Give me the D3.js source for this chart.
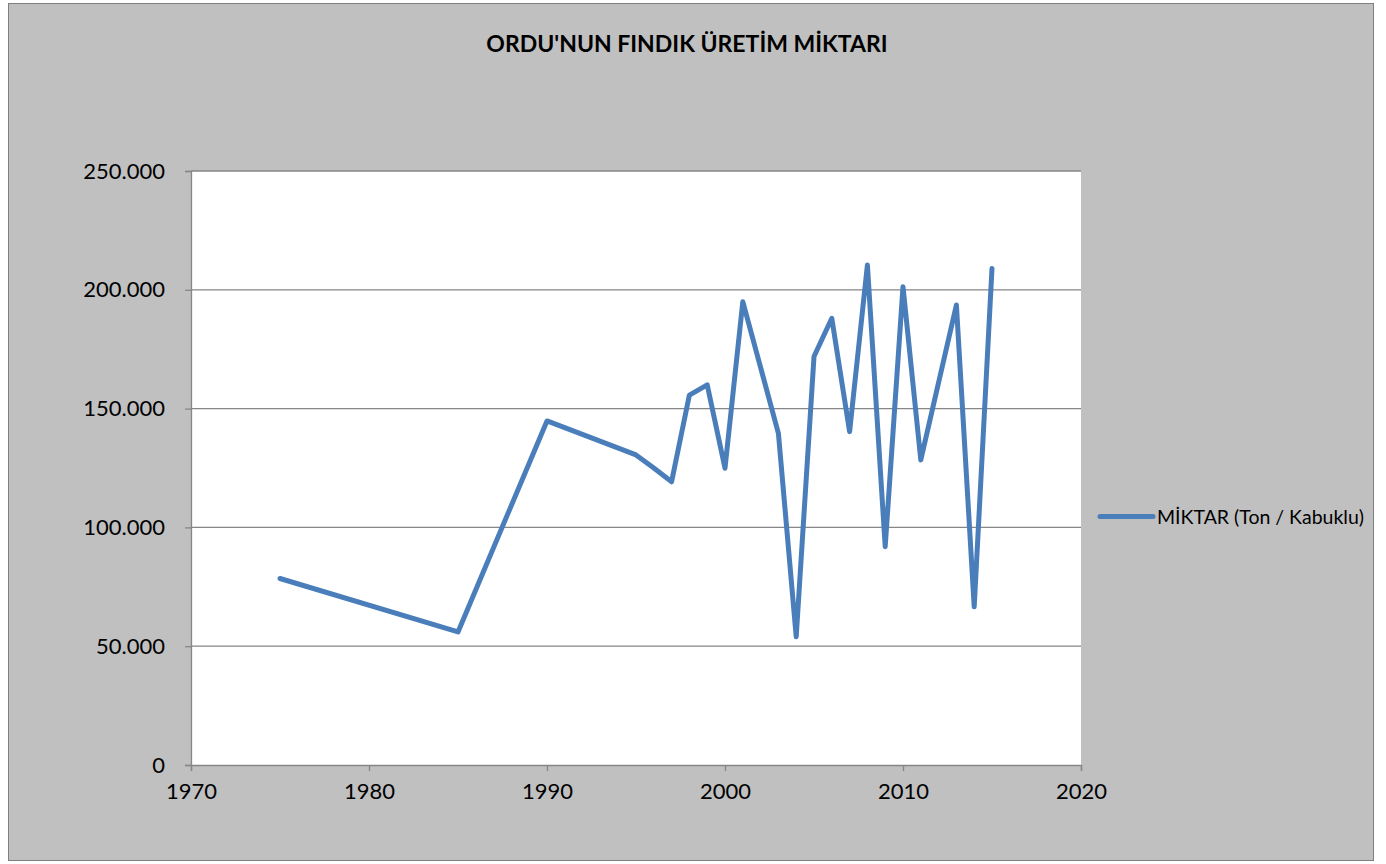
<!DOCTYPE html>
<html>
<head>
<meta charset="utf-8">
<script src="https://cdn.jsdelivr.net/npm/d3@7"></script>
<style>
  body { margin: 0; background: #fff; }
  text { font-family: Lato, "Open Sans", sans-serif; }
</style>
</head>
<body>
<div id="chart"></div>
<script>
// data
var years = [1975, 1985, 1990, 1995, 1996, 1997, 1998, 1999, 2000, 2001, 2003, 2004, 2005, 2006, 2007, 2008, 2009, 2010, 2011, 2013, 2014, 2015];
var amounts = [78500, 56000, 144800, 130500, 125000, 119200, 155700, 160000, 124900, 195000, 139600, 54000, 171900, 188000, 140300, 210400, 91900, 201300, 128400, 193600, 66600, 209000];
var xTicks = [1970, 1980, 1990, 2000, 2010, 2020];
var yTicks = [0, 50000, 100000, 150000, 200000, 250000];
var seriesName = "MİKTAR (Ton / Kabuklu)";
var title = "ORDU'NUN FINDIK ÜRETİM MİKTARI";

var W = 1386, H = 864;
var margin = { top: 171, left: 191 },
    width = 890,
    height = 594;

var svg = d3.select("#chart").append("svg")
    .attr("width", W)
    .attr("height", H);

// chart background
svg.append("rect")
    .attr("x", 8.5).attr("y", 3.5)
    .attr("width", 1365).attr("height", 857)
    .attr("fill", "#c0c0c0")
    .attr("stroke", "#7f7f7f");

svg.append("text")
    .attr("x", 687).attr("y", 52)
    .attr("text-anchor", "middle")
    .attr("font-weight", "bold")
    .attr("font-size", 23)
    .attr("fill", "#000")
    .text(title);

var g = svg.append("g")
    .attr("transform", "translate(" + margin.left + "," + margin.top + ")");

g.append("rect")
    .attr("width", width).attr("height", height)
    .attr("fill", "#fff");

var x = d3.scaleLinear().domain([1970, 2020]).range([0, width]);
var y = d3.scaleLinear().domain([0, 250000]).range([height, 0]);

// gridlines
g.selectAll(".grid")
    .data(yTicks.filter(function (d) { return d > 0; }))
    .enter().append("line")
    .attr("x1", 0).attr("x2", width)
    .attr("y1", function (d) { return y(d); })
    .attr("y2", function (d) { return y(d); })
    .attr("stroke", "#868686")
    .attr("stroke-width", 1.3);

var fmt = function (d) { return d === 0 ? "0" : d3.format(",")(d).replace(/,/g, "."); };

var yAxis = g.append("g")
    .call(d3.axisLeft(y).tickValues(yTicks).tickFormat(fmt).tickSize(6).tickPadding(20));
var xAxis = g.append("g")
    .attr("transform", "translate(0," + height + ")")
    .call(d3.axisBottom(x).tickValues(xTicks).tickFormat(d3.format("d")).tickSize(6).tickPadding(12));

[yAxis, xAxis].forEach(function (a) {
    a.selectAll("path, line").attr("stroke", "#868686").attr("stroke-width", 1.3);
    a.selectAll("text").attr("font-size", 22).attr("fill", "#000")
        .attr("font-family", "Lato, 'Open Sans', sans-serif");
});

var pts = years.map(function (d, i) { return [d, amounts[i]]; });

g.append("path")
    .datum(pts)
    .attr("fill", "none")
    .attr("stroke", "#4a7ebb")
    .attr("stroke-width", 5)
    .attr("stroke-linejoin", "round")
    .attr("stroke-linecap", "round")
    .attr("d", d3.line()
        .x(function (d) { return x(d[0]); })
        .y(function (d) { return y(d[1]); }));

// legend
var lg = svg.append("g").attr("transform", "translate(1100,516.5)");
lg.append("line")
    .attr("x1", 0).attr("x2", 53)
    .attr("stroke", "#4a7ebb").attr("stroke-width", 5)
    .attr("stroke-linecap", "round");
lg.append("text")
    .attr("x", 57).attr("y", 7)
    .attr("font-size", 19.5)
    .attr("fill", "#000")
    .text(seriesName);
</script>
</body>
</html>
